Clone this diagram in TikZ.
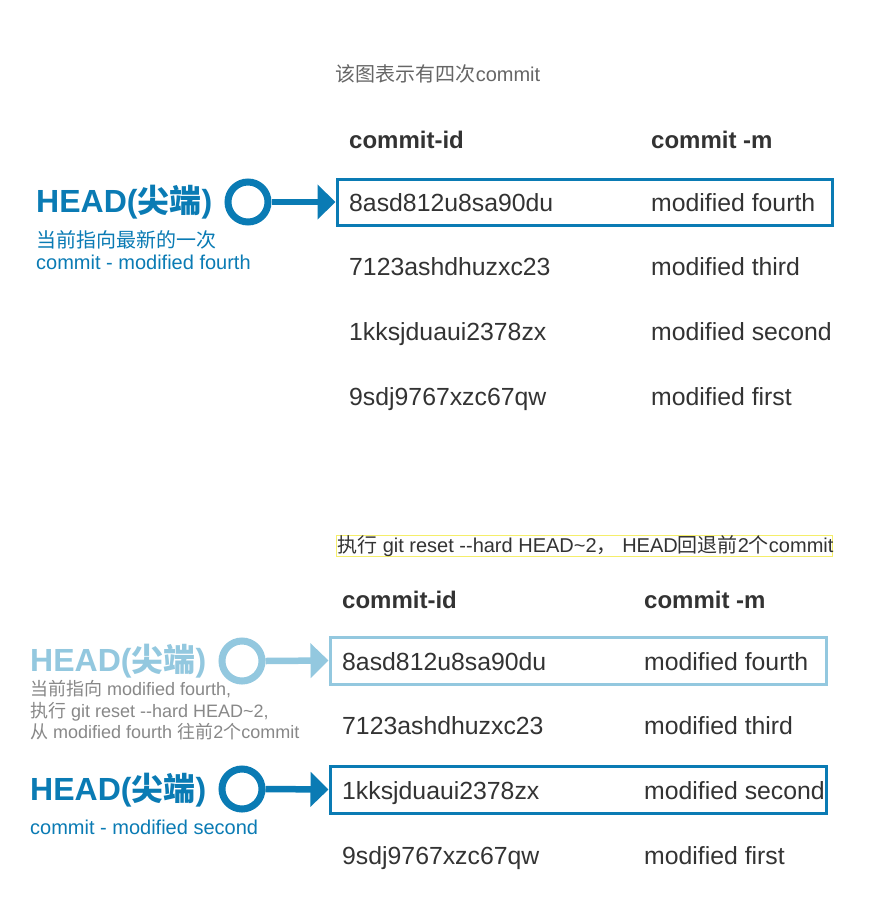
\documentclass[tikz,border=0pt]{standalone}
\usepackage{fontspec}
\setmainfont{Liberation Sans}
\newfontfamily\cjk{Noto Sans CJK SC}
\usepackage{tikz}
\usetikzlibrary{arrows.meta}

\definecolor{headblue}{HTML}{0A7BB4}
\definecolor{headpale}{HTML}{93C8DF}
\definecolor{rowgray}{HTML}{333333}
\definecolor{notegray}{HTML}{888888}
\definecolor{titlegray}{HTML}{666666}
\definecolor{markyellow}{HTML}{F5EE6A}

\begin{document}
\begin{tikzpicture}
[x=1pt, y=-1pt,
txt/.style={anchor=base west, inner sep=0pt, text=rowgray, font=\fontsize{24.8}{24.8}\selectfont},
colhead/.style={txt, font=\fontsize{24}{24}\selectfont\bfseries},
headtxt/.style={anchor=base west, inner sep=0pt, text=#1, font=\fontsize{32}{32}\selectfont\bfseries},
note/.style={anchor=base west, inner sep=0pt, text=#1, font=\fontsize{20}{20}\selectfont},
ring/.style={circle, draw=#1, line width=7pt, minimum size=40pt, inner sep=0pt},
pointer/.style={draw=#1, line width=6.5pt, -{Triangle[length=18pt, width=34pt, fill=#1]}},
hbox/.style={draw=#1, line width=3pt, minimum width=495pt, minimum height=46pt, inner sep=0pt}]
\fill[white] (0,0) rectangle (878,922);

% four commits
\node[anchor=base, inner sep=0pt, text=titlegray, font=\fontsize{20}{20}\selectfont] (title) at (438,81) {{\cjk 该图表示有四次}commit};
\node[colhead] (idhead) at (349,148) {commit-id};
\node[colhead] (msghead) at (651,148) {commit -m};
\foreach \cid/\cmsg [count=\i from 0] in {8asd812u8sa90du/modified fourth, 7123ashdhuzxc23/modified third, 1kksjduaui2378zx/modified second, 9sdj9767xzc67qw/modified first}{
	\node[txt] (id\i) at (349,{211+64.7*\i}) {\cid};
	\node[txt] (msg\i) at (651,{211+64.7*\i}) {\cmsg};
}
\node[hbox=headblue] (box1) at (584.5,202) {};
\node[headtxt=headblue] (head1) at (36,212) {HEAD({\cjk 尖端})};
\node[note=headblue] (note1a) at (36,247) {\cjk 当前指向最新的一次};
\node[note=headblue] (note1b) at (36,269) {commit - modified fourth};
\node[ring=headblue] (ring1) at (248,202) {};
\draw[pointer=headblue] (ring1.east) -- (box1.west);

% after git reset --hard HEAD~2
\node[draw=markyellow, line width=1pt, minimum width=496pt, minimum height=21pt, inner sep=0pt] (mark) at (584,545.5) {};
\node[note=rowgray] (resettxt) at (337,552) {{\cjk 执行} git reset -{}-hard HEAD\textasciitilde 2{\cjk ，} HEAD{\cjk 回退前}2{\cjk 个}commit};
\node[colhead] (lidhead) at (342,608) {commit-id};
\node[colhead] (lmsghead) at (644,608) {commit -m};
\foreach \cid/\cmsg [count=\i from 0] in {8asd812u8sa90du/modified fourth, 7123ashdhuzxc23/modified third, 1kksjduaui2378zx/modified second, 9sdj9767xzc67qw/modified first}{
	\node[txt] (lid\i) at (342,{670+64.7*\i}) {\cid};
	\node[txt] (lmsg\i) at (644,{670+64.7*\i}) {\cmsg};
}
\node[hbox=headpale, minimum width=496pt, minimum height=47pt] (box2) at (578,660.5) {};
\node[hbox=headblue, minimum width=496pt, minimum height=47pt] (box3) at (578,789.5) {};

\node[headtxt=headpale] (head2) at (30,671) {HEAD({\cjk 尖端})};
\node[note=notegray, font=\fontsize{18}{18}\selectfont] (note2a) at (30,695) {{\cjk 当前指向} modified fourth,};
\node[note=notegray, font=\fontsize{18}{18}\selectfont] (note2b) at (30,717) {{\cjk 执行} git reset -{}-hard HEAD\textasciitilde 2,};
\node[note=notegray, font=\fontsize{18}{18}\selectfont] (note2c) at (30,738) {{\cjk 从} modified fourth {\cjk 往前}2{\cjk 个}commit};
\node[ring=headpale] (ring2) at (242,661) {};
\draw[pointer=headpale] (ring2.east) -- (box2.west);

\node[headtxt=headblue] (head3) at (30,800) {HEAD({\cjk 尖端})};
\node[note=headblue] (note3) at (30,834) {commit - modified second};
\node[ring=headblue] (ring3) at (242,789) {};
\draw[pointer=headblue] (ring3.east) -- (box3.west);
\end{tikzpicture}
\end{document}
